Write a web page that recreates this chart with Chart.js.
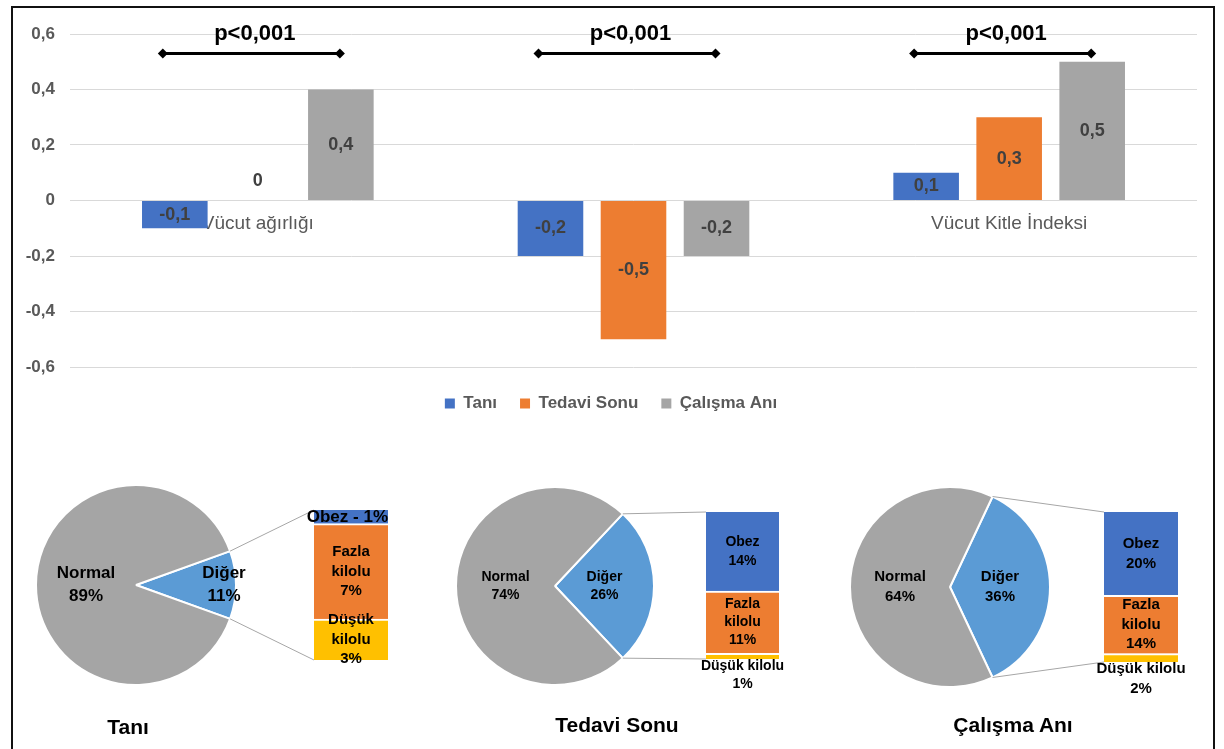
<!DOCTYPE html>
<html lang="tr">
<head>
<meta charset="utf-8">
<title>Vücut ölçümleri ve kilo durumu</title>
<script src="https://cdn.jsdelivr.net/npm/chart.js@4.4.1/dist/chart.umd.min.js"></script>
<style>
  html, body { margin: 0; padding: 0; background: #ffffff; }
  body { width: 1224px; height: 749px; position: relative; overflow: hidden;
         font-family: "Liberation Sans", Arial, Helvetica, sans-serif; }
  canvas { position: absolute; }
  .frame { position: absolute; left: 11px; top: 6px; width: 1200px; height: 780px;
           border: 2px solid #111111; pointer-events: none; }
  .panel-title { position: absolute; width: 300px; margin-left: -150px; text-align: center;
                 font-weight: bold; font-size: 21px; line-height: 24px; color: #000000; }
</style>
</head>
<body>
<canvas id="barChart" width="1224" height="422" style="left:0;top:0"></canvas>
<canvas id="pie0"></canvas><canvas id="col0"></canvas>
<canvas id="pie1"></canvas><canvas id="col1"></canvas>
<canvas id="pie2"></canvas><canvas id="col2"></canvas>
<div class="frame"></div>
<script>
// ---- values ----
const measureCategories = ['Vücut ağırlığı', 'Boy', 'Vücut Kitle İndeksi'];
const seriesNames = ['Tanı', 'Tedavi Sonu', 'Çalışma Anı'];
const taniScores = [-0.1, -0.2, 0.1];
const tedaviSonuScores = [0, -0.5, 0.3];
const calismaAniScores = [0.4, -0.2, 0.5];
const yTickValues = [-0.6, -0.4, -0.2, 0, 0.2, 0.4, 0.6];
const pValueLabels = ['p<0,001', 'p<0,001', 'p<0,001'];

const weightGroups = ['Diğer', 'Normal'];
const taniGroups = [11, 89];
const tedaviSonuGroups = [26, 74];
const calismaAniGroups = [36, 64];

const otherGroups = ['Obez', 'Fazla kilolu', 'Düşük kilolu'];
const taniOther = [1, 7, 3];
const tedaviSonuOther = [14, 11, 1];
const calismaAniOther = [20, 14, 2];

// ---- styling ----
const FONT = '"Liberation Sans", Arial, Helvetica, sans-serif';
Chart.defaults.font.family = FONT;
const seriesColors = ['#4472C4', '#ED7D31', '#A5A5A5'];
const groupColors = ['#5B9BD5', '#A5A5A5'];
const otherColors = ['#4472C4', '#ED7D31', '#FFC000'];
const seriesValues = [taniScores, tedaviSonuScores, calismaAniScores];
const bracketLevel = 0.53;

function formatComma(v) {
  if (Math.abs(v) < 1e-9) return '0';
  return String(Math.round(v * 10) / 10).replace('.', ',');
}

// value labels inside the bars
const barValueLabels = {
  id: 'barValueLabels',
  afterDatasetsDraw(chart) {
    const ctx = chart.ctx;
    ctx.save();
    ctx.font = 'bold 18px ' + FONT;
    ctx.fillStyle = '#404040';
    ctx.textAlign = 'center';
    ctx.textBaseline = 'middle';
    chart.data.datasets.forEach((ds, di) => {
      chart.getDatasetMeta(di).data.forEach((bar, i) => {
        const v = ds.data[i];
        const p = bar.getProps(['x', 'y', 'base'], true);
        const ly = Math.abs(v) < 1e-9 ? p.base - 19 : (p.y + p.base) / 2;
        ctx.fillText(formatComma(v), p.x, ly);
      });
    });
    ctx.restore();
  }
};

// significance brackets above each group
const pValueBrackets = {
  id: 'pValueBrackets',
  afterDatasetsDraw(chart) {
    const ctx = chart.ctx;
    const yScale = chart.scales.y;
    const first = chart.getDatasetMeta(0).data;
    const last = chart.getDatasetMeta(chart.data.datasets.length - 1).data;
    const lineY = yScale.getPixelForValue(bracketLevel);
    const textY = yScale.getPixelForValue(yTickValues[yTickValues.length - 1]);
    ctx.save();
    pValueLabels.forEach((txt, i) => {
      const x1 = first[i].x - 12, x2 = last[i].x - 1;
      ctx.strokeStyle = '#000000';
      ctx.lineWidth = 3;
      ctx.beginPath();
      ctx.moveTo(x1, lineY);
      ctx.lineTo(x2, lineY);
      ctx.stroke();
      ctx.fillStyle = '#000000';
      [x1, x2].forEach(x => {
        ctx.beginPath();
        ctx.moveTo(x - 5, lineY);
        ctx.lineTo(x, lineY - 5);
        ctx.lineTo(x + 5, lineY);
        ctx.lineTo(x, lineY + 5);
        ctx.closePath();
        ctx.fill();
      });
      ctx.font = 'bold 22px ' + FONT;
      ctx.textAlign = 'center';
      ctx.textBaseline = 'middle';
      ctx.fillText(txt, chart.scales.x.getPixelForValue(i) - 3, textY);
    });
    ctx.restore();
  }
};

new Chart(document.getElementById('barChart'), {
  type: 'bar',
  data: {
    labels: measureCategories,
    datasets: seriesNames.map((name, i) => ({
      label: name,
      data: seriesValues[i],
      backgroundColor: seriesColors[i],
      borderWidth: 0,
      categoryPercentage: 0.663,
      barPercentage: 0.79
    }))
  },
  options: {
    responsive: false,
    animation: false,
    events: [],
    devicePixelRatio: 1,
    layout: { padding: { left: 25, right: 27, top: 34, bottom: 0 } },
    scales: {
      x: {
        position: { y: 0 },
        z: 1,
        grid: { display: false, drawTicks: false },
        border: { display: false },
        ticks: { color: '#595959', font: { size: 19 }, padding: 12, maxRotation: 0, autoSkip: false }
      },
      // empty strip that separates the plot area from the legend
      gap: {
        type: 'category',
        position: 'bottom',
        grid: { display: false, drawTicks: false },
        border: { display: false },
        ticks: { display: false },
        afterFit: s => { s.height = 5; }
      },
      y: {
        min: -0.6,
        max: 0.6,
        grid: { color: '#d9d9d9', lineWidth: 1, drawTicks: false },
        border: { display: false },
        afterBuildTicks: s => { s.ticks = yTickValues.map(v => ({ value: v })); },
        afterFit: s => { s.width = 45; },
        ticks: { color: '#595959', font: { size: 17, weight: 'bold' }, padding: 15,
                 callback: v => formatComma(v) }
      }
    },
    plugins: {
      legend: {
        position: 'bottom',
        labels: { boxWidth: 10, boxHeight: 10, padding: 23, color: '#595959',
                  font: { size: 17, weight: 'bold' } }
      },
      tooltip: { enabled: false }
    }
  },
  plugins: [barValueLabels, pValueBrackets]
});

// ---- pie-of-pie panels ----
const panels = [
  { groups: taniGroups, other: taniOther, title: seriesNames[0],
    pie: { cx: 136, cy: 585, r: 100 }, col: { left: 314, top: 510, right: 388, bottom: 660 },
    titleX: 128, titleY: 727, pieFont: 17, labelRadius: [0.88, 0.5], colFont: 15,
    modes: ['inline', 'inside', 'inside'] },
  { groups: tedaviSonuGroups, other: tedaviSonuOther, title: seriesNames[1],
    pie: { cx: 555, cy: 586, r: 99 }, col: { left: 706, top: 512, right: 779, bottom: 659 },
    titleX: 617, titleY: 725, pieFont: 14, labelRadius: [0.5, 0.5], colFont: 14,
    modes: ['inside', 'inside', 'below'] },
  { groups: calismaAniGroups, other: calismaAniOther, title: seriesNames[2],
    pie: { cx: 950, cy: 587, r: 100 }, col: { left: 1104, top: 512, right: 1178, bottom: 662 },
    titleX: 1013, titleY: 725, pieFont: 15, labelRadius: [0.5, 0.5], colFont: 15,
    modes: ['inside', 'inside', 'below'] }
];

const pieLabels = {
  id: 'pieLabels',
  afterDatasetsDraw(chart, args, opts) {
    const ctx = chart.ctx;
    const ds = chart.data.datasets[0];
    ctx.save();
    ctx.font = 'bold ' + opts.fontSize + 'px ' + FONT;
    ctx.fillStyle = '#000000';
    ctx.textAlign = 'center';
    ctx.textBaseline = 'middle';
    const lh = opts.fontSize * 1.32;
    chart.getDatasetMeta(0).data.forEach((arc, i) => {
      const p = arc.getProps(['x', 'y', 'startAngle', 'endAngle', 'outerRadius'], true);
      const mid = (p.startAngle + p.endAngle) / 2;
      const f = opts.radii[i];
      const lx = p.x + Math.cos(mid) * p.outerRadius * f;
      const ly = p.y + Math.sin(mid) * p.outerRadius * f;
      ctx.fillText(chart.data.labels[i], lx, ly - lh / 2);
      ctx.fillText(ds.data[i] + '%', lx, ly + lh / 2);
    });
    ctx.restore();
  }
};

const columnLabels = {
  id: 'columnLabels',
  afterDatasetsDraw(chart, args, opts) {
    const ctx = chart.ctx;
    ctx.save();
    ctx.fillStyle = '#000000';
    ctx.textBaseline = 'middle';
    chart.data.datasets.forEach((ds, di) => {
      const idx = ds.groupIndex;
      const mode = opts.modes[idx];
      const name = otherGroups[idx];
      const v = ds.data[0];
      const bar = chart.getDatasetMeta(di).data[0];
      const p = bar.getProps(['x', 'y', 'base', 'width'], true);
      const midY = (p.y + p.base) / 2;
      if (mode === 'inline') {
        ctx.font = 'bold ' + opts.inlineFont + 'px ' + FONT;
        ctx.textAlign = 'right';
        ctx.fillText(name + ' - ' + v + '%', p.x + p.width / 2, midY);
        return;
      }
      ctx.font = 'bold ' + opts.fontSize + 'px ' + FONT;
      ctx.textAlign = 'center';
      const lh = opts.fontSize * 1.3;
      if (mode === 'below') {
        const lines = [name, v + '%'];
        lines.forEach((t, k) => ctx.fillText(t, p.x, p.base + 7 + k * lh));
      } else {
        const lines = name.split(' ').concat([v + '%']);
        const y0 = midY - (lines.length - 1) * lh / 2;
        lines.forEach((t, k) => ctx.fillText(t, p.x, y0 + k * lh));
      }
    });
    ctx.restore();
  }
};

const connectorLines = {
  id: 'connectorLines',
  beforeDatasetsDraw(chart, args, opts) {
    const pie = opts.pie;
    const arc = pie.getDatasetMeta(0).data[0];
    const p = arc.getProps(['x', 'y', 'startAngle', 'endAngle', 'outerRadius'], true);
    const dx = opts.pieLeft - opts.colLeft, dy = opts.pieTop - opts.colTop;
    const a = chart.chartArea;
    const ctx = chart.ctx;
    ctx.save();
    ctx.strokeStyle = '#a6a6a6';
    ctx.lineWidth = 1;
    [[p.startAngle, a.top], [p.endAngle, a.bottom]].forEach(([ang, ty]) => {
      ctx.beginPath();
      ctx.moveTo(p.x + Math.cos(ang) * p.outerRadius + dx, p.y + Math.sin(ang) * p.outerRadius + dy);
      ctx.lineTo(a.left, ty);
      ctx.stroke();
    });
    ctx.restore();
  }
};

panels.forEach((panel, pi) => {
  // pie
  const pieCanvas = document.getElementById('pie' + pi);
  const pw = 260, ph = 230;
  const pieLeft = panel.pie.cx - pw / 2, pieTop = panel.pie.cy - ph / 2;
  pieCanvas.width = pw; pieCanvas.height = ph;
  pieCanvas.style.left = pieLeft + 'px'; pieCanvas.style.top = pieTop + 'px';
  const padX = pw / 2 - (panel.pie.r + 1), padY = ph / 2 - (panel.pie.r + 1);
  const total = panel.groups.reduce((s, v) => s + v, 0);
  const pieChart = new Chart(pieCanvas, {
    type: 'pie',
    data: {
      labels: weightGroups,
      datasets: [{ data: panel.groups, backgroundColor: groupColors, borderColor: '#ffffff',
                   borderWidth: 2, hoverOffset: 0 }]
    },
    options: {
      responsive: false, animation: false, events: [], devicePixelRatio: 1,
      rotation: 90 - panel.groups[0] / total * 180,
      layout: { padding: { left: padX, right: padX, top: padY, bottom: padY } },
      plugins: {
        legend: { display: false }, tooltip: { enabled: false },
        pieLabels: { fontSize: panel.pieFont, radii: panel.labelRadius }
      }
    },
    plugins: [pieLabels]
  });

  // breakdown column of the "Diğer" slice
  const colCanvas = document.getElementById('col' + pi);
  const colLeft = panel.pie.cx, colTop = 470;
  const cw = panel.col.right + 45 - colLeft, ch = 230;
  colCanvas.width = cw; colCanvas.height = ch;
  colCanvas.style.left = colLeft + 'px'; colCanvas.style.top = colTop + 'px';
  const order = otherGroups.map((n, i) => i).reverse();
  const otherTotal = panel.other.reduce((s, v) => s + v, 0);
  new Chart(colCanvas, {
    type: 'bar',
    data: {
      labels: [''],
      datasets: order.map((idx, k) => ({
        label: otherGroups[idx],
        groupIndex: idx,
        data: [panel.other[idx]],
        backgroundColor: otherColors[idx],
        borderColor: '#ffffff',
        borderWidth: k < order.length - 1 ? { top: 2, left: 0, right: 0, bottom: 0 } : 0,
        borderSkipped: false,
        barPercentage: 1,
        categoryPercentage: 1
      }))
    },
    options: {
      responsive: false, animation: false, events: [], devicePixelRatio: 1,
      layout: { padding: { left: panel.col.left - colLeft, right: 45,
                           top: panel.col.top - colTop, bottom: colTop + ch - panel.col.bottom } },
      scales: {
        x: { display: false, stacked: true },
        y: { display: false, stacked: true, min: 0, max: otherTotal }
      },
      plugins: {
        legend: { display: false }, tooltip: { enabled: false },
        columnLabels: { modes: panel.modes, fontSize: panel.colFont, inlineFont: 17 },
        connectorLines: { pie: pieChart, pieLeft, pieTop, colLeft, colTop }
      }
    },
    plugins: [connectorLines, columnLabels]
  });

  const t = document.createElement('div');
  t.className = 'panel-title';
  t.textContent = panel.title;
  t.style.left = panel.titleX + 'px';
  t.style.top = (panel.titleY - 12) + 'px';
  document.body.appendChild(t);
});
</script>
</body>
</html>
